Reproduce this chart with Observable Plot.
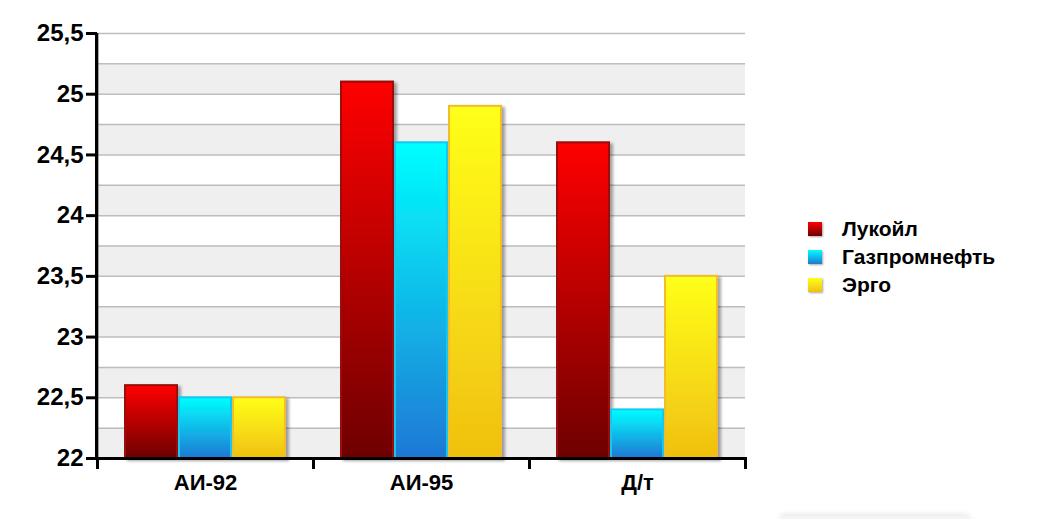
<!DOCTYPE html>
<html>
<head>
<meta charset="utf-8">
<script src="https://cdn.jsdelivr.net/npm/d3@7"></script>
<script src="https://cdn.jsdelivr.net/npm/@observablehq/plot@0.6"></script>
<style>
  html, body { margin: 0; padding: 0; background: #fff; }
  #wrap { position: relative; width: 1050px; height: 519px; overflow: hidden; }
  #legend { position: absolute; left: 808px; top: 215px; font-family: "Liberation Sans", Arial, sans-serif; font-weight: bold; font-size: 21px; color: #000; }
  .item { display: flex; align-items: center; height: 28px; }
  .sw { width: 14px; height: 14px; margin-right: 20px; box-shadow: 1px 1px 2px rgba(0,0,0,0.35); }
  #foot { position: absolute; left: 780px; top: 516px; width: 190px; height: 6px; border-radius: 3px; box-shadow: 0 -1px 6px rgba(0,0,0,0.12); background: #f4f4f4; }
</style>
</head>
<body>
<div id="wrap"><div id="chart"></div><div id="legend"></div><div id="foot"></div></div>
<script>
const categories = ["АИ-92", "АИ-95", "Д/т"];
const series = ["Лукойл", "Газпромнефть", "Эрго"];
const lukoil = [22.6, 25.1, 24.6];
const gazprom = [22.5, 24.6, 22.4];
const ergo = [22.5, 24.9, 23.5];
const yTicks = [22, 22.5, 23, 23.5, 24, 24.5, 25, 25.5];
const yGrid = [22.25, 22.5, 22.75, 23, 23.25, 23.5, 23.75, 24, 24.25, 24.5, 24.75, 25, 25.25, 25.5];

const valuesBySeries = [lukoil, gazprom, ergo];
const data = [];
categories.forEach((c, ci) => series.forEach((s, si) => data.push({category: c, series: s, value: valuesBySeries[si][ci]})));
const bands = yTicks.slice(0, -1).map((t, i) => ({y1: t, y2: yGrid[2 * i]}));

const grads = [
  {top: "#ff0000", bottom: "#6e0000", stroke: "#9a0a0a"},
  {top: "#00ffff", bottom: "#1f78d4", stroke: "#18c8f0"},
  {top: "#ffff1a", bottom: "#f0c010", stroke: "#f2bd2a"}
];
const yMin = yTicks[0], yMax = yTicks[yTicks.length - 1];
const fmt = d => String(d).replace(".", ",");

const W = 1050, H = 519, mL = 96, mR = 304, mT = 33, mB = 61;
const facetW = (W - mL - mR) / categories.length;
const plotH = H - mT - mB;

const chart = Plot.plot({
  width: W,
  height: H,
  marginLeft: mL,
  marginRight: mR,
  marginTop: mT,
  marginBottom: mB,
  style: {fontFamily: "'Liberation Sans', Arial, sans-serif", fontWeight: "bold", color: "#000", background: "transparent"},
  fx: {domain: categories, padding: 0, label: null},
  x: {domain: series, paddingInner: 0.03, paddingOuter: 0.5, axis: null},
  y: {domain: [yMin, yMax], axis: null},
  marks: [
    Plot.rectY(bands, {y1: "y1", y2: "y2", fill: "#efefef"}),
    Plot.ruleY(yGrid, {stroke: "#bdbdbd", strokeWidth: 1.5}),
    ...series.map((s, i) => Plot.barY(data.filter(d => d.series === s), {
      fx: "category", x: "series", y1: yMin, y2: "value",
      fill: `url(#grad${i})`, stroke: grads[i].stroke, strokeWidth: 2
    })),
    Plot.axisY({ticks: yTicks, tickFormat: fmt, tickSize: 11, tickPadding: 3, strokeWidth: 3, fontSize: 24, fontWeight: "bold", label: null}),
    // y axis line (left edge of first facet)
    Plot.rectY([categories[0]], {fx: d => d, y1: yMin, y2: yMax, fill: "#000", insetLeft: -2, insetRight: facetW - 2}),
    Plot.ruleY([yMin], {stroke: "#000", strokeWidth: 3}),
    Plot.axisFx({anchor: "bottom", tickSize: 0, tickPadding: 16, fontSize: 22, fontWeight: "bold", label: null}),
    Plot.frame({anchor: "left", insetTop: plotH, insetBottom: -9, stroke: "#000", strokeWidth: 3}),
    Plot.frame({anchor: "right", insetTop: plotH, insetBottom: -9, stroke: "#000", strokeWidth: 3})
  ]
});

// gradients + shadow
const svg = d3.select(chart);
const defs = svg.insert("defs", ":first-child");
grads.forEach((g, i) => {
  const lg = defs.append("linearGradient").attr("id", `grad${i}`).attr("x1", 0).attr("y1", 0).attr("x2", 0).attr("y2", 1);
  lg.append("stop").attr("offset", "0%").attr("stop-color", g.top);
  lg.append("stop").attr("offset", "100%").attr("stop-color", g.bottom);
});
const f = defs.append("filter").attr("id", "shadow").attr("x", "-10%").attr("y", "-10%").attr("width", "130%").attr("height", "130%");
f.append("feDropShadow").attr("dx", 3).attr("dy", 2).attr("stdDeviation", 1.5).attr("flood-color", "#000").attr("flood-opacity", 0.35);
svg.selectAll("rect").filter(function() { return (this.getAttribute("fill") || "").startsWith("url(#grad") || (this.parentNode.getAttribute("fill") || "").startsWith("url(#grad"); })
  .attr("filter", "url(#shadow)");

document.getElementById("chart").appendChild(chart);

const legend = d3.select("#legend");
series.forEach((s, i) => {
  const it = legend.append("div").attr("class", "item");
  it.append("div").attr("class", "sw")
    .style("background", `linear-gradient(${grads[i].top}, ${grads[i].bottom})`);
  it.append("span").text(s);
});
</script>
</body>
</html>
